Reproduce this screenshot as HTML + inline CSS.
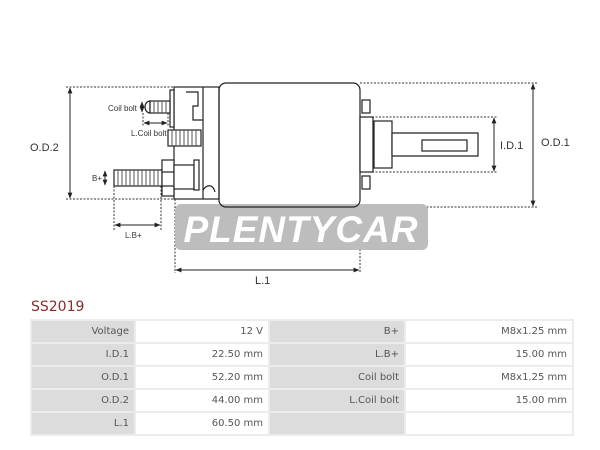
<!DOCTYPE html>
<html><head><meta charset="utf-8"><style>
body{margin:0;background:#fff;width:600px;height:450px;overflow:hidden;font-family:"DejaVu Sans","Liberation Sans",sans-serif;}
.t{position:absolute;left:30px;top:319px;border-collapse:separate;border-spacing:2px;width:544px;font-size:10px;color:#555;}
.t td{height:21px;padding:0 5px;text-align:right;}
.l{background:#dcdcdc;}
.v{background:#fff;}
.wrap{position:absolute;left:30px;top:319px;width:544px;height:117px;background:#ececec;}
</style></head><body>
<svg width="600" height="300" style="position:absolute;left:0;top:0" font-family="Liberation Sans, sans-serif">
<defs><marker id="a" viewBox="0 0 10 10" refX="9" refY="5" markerWidth="6" markerHeight="6" orient="auto-start-reverse"><path d="M0,1 L10,5 L0,9z" fill="#222"/></marker></defs>
<g stroke="#333" stroke-width="1" stroke-dasharray="2,1.5" fill="none">
<line x1="66" y1="87" x2="174" y2="87"/><line x1="66" y1="199" x2="174" y2="199"/>
<line x1="360" y1="83" x2="538" y2="83"/><line x1="360" y1="207" x2="538" y2="207"/>
<line x1="372" y1="117" x2="498" y2="117"/><line x1="372" y1="172" x2="498" y2="172"/>
<line x1="175" y1="199" x2="175" y2="273"/><line x1="360" y1="207" x2="360" y2="273"/>
<line x1="114" y1="186" x2="114" y2="230"/><line x1="161" y1="186" x2="161" y2="230"/>
<line x1="143" y1="113" x2="143" y2="126"/><line x1="168" y1="113" x2="168" y2="126"/>
<line x1="133" y1="170" x2="114" y2="170"/><line x1="133" y1="186" x2="114" y2="186"/>
</g>
<rect x="175" y="204" width="253" height="46" rx="6" fill="#bdbdbd"/>
<text x="301" y="242" font-size="37" font-weight="bold" font-style="italic" fill="#fff" text-anchor="middle" letter-spacing="1">PLENTYCAR</text>
<g stroke="#222" stroke-width="1.2" fill="#fff">
<rect x="219" y="83" width="141" height="124" rx="7" fill="none"/>
<rect x="174" y="87" width="45" height="112" fill="none"/>
<line x1="203" y1="87" x2="203" y2="199"/>
<rect x="170" y="90" width="4" height="37"/>
<path d="M186 92h12v14h-5v14h10" fill="none"/>
<path d="M150 101a5 6 0 0 0 0 12z"/>
<rect x="150" y="101" width="20" height="12"/>
<rect x="168" y="130" width="33" height="16"/>
<rect x="114" y="170" width="48" height="16"/>
<rect x="162" y="160" width="12" height="36"/>
<line x1="162" y1="172" x2="174" y2="172"/><line x1="162" y1="186" x2="174" y2="186"/>
<rect x="174" y="165" width="20" height="24"/>
<rect x="194" y="160" width="5" height="30"/>
<path d="M203 190c4-6 10-6 12 2" fill="none"/>
<rect x="360" y="117" width="13" height="55"/>
<rect x="374" y="121" width="18" height="47"/>
<path d="M392 133h86v23h-86z"/>
<rect x="422" y="140" width="45" height="11"/>
<rect x="362" y="100" width="8" height="13"/><rect x="362" y="176" width="8" height="13"/>
</g>
<g stroke="#555" stroke-width="1">
<path d="M154 101v12M158 101v12M162 101v12M166 101v12"/>
<path d="M172 130v16M176 130v16M180 130v16M184 130v16M188 130v16M192 130v16M196 130v16"/>
<path d="M118 170v16M122 170v16M126 170v16M130 170v16M134 170v16M138 170v16M142 170v16M146 170v16M150 170v16M154 170v16M158 170v16"/>
</g>
<g stroke="#222" stroke-width="1" fill="none" marker-start="url(#a)" marker-end="url(#a)">
<line x1="70" y1="88" x2="70" y2="198"/>
<line x1="533" y1="84" x2="533" y2="206"/>
<line x1="494" y1="118" x2="494" y2="171"/>
<line x1="176" y1="270" x2="359" y2="270"/>
<line x1="115" y1="225" x2="160" y2="225"/>
<line x1="144" y1="123" x2="167" y2="123"/>
<line x1="105" y1="171" x2="105" y2="185"/>
<line x1="142" y1="102" x2="142" y2="112"/>
</g>
<g fill="#333" font-size="11">
<text x="30" y="151">O.D.2</text>
<text x="541" y="146">O.D.1</text>
<text x="500" y="149">I.D.1</text>
<text x="255" y="284">L.1</text>
<text x="125" y="238" font-size="8">L.B+</text>
<text x="92" y="181" font-size="8">B+</text>
<text x="108" y="111" font-size="8">Coil bolt</text>
<text x="131" y="136" font-size="8">L.Coil bolt</text>
</g>
</svg>
<div style="position:absolute;left:31px;top:299px;font-size:14px;color:#8b2a2a;">SS2019</div>
<div class="wrap"></div>
<table class="t">
<tr><td class="l" style="width:92px">Voltage</td><td class="v" style="width:122px">12 V</td><td class="l" style="width:124px">B+</td><td class="v">M8x1.25 mm</td></tr>
<tr><td class="l">I.D.1</td><td class="v">22.50 mm</td><td class="l">L.B+</td><td class="v">15.00 mm</td></tr>
<tr><td class="l">O.D.1</td><td class="v">52.20 mm</td><td class="l">Coil bolt</td><td class="v">M8x1.25 mm</td></tr>
<tr><td class="l">O.D.2</td><td class="v">44.00 mm</td><td class="l">L.Coil bolt</td><td class="v">15.00 mm</td></tr>
<tr><td class="l">L.1</td><td class="v">60.50 mm</td><td class="l"></td><td class="v"></td></tr>
</table>
</body></html>
